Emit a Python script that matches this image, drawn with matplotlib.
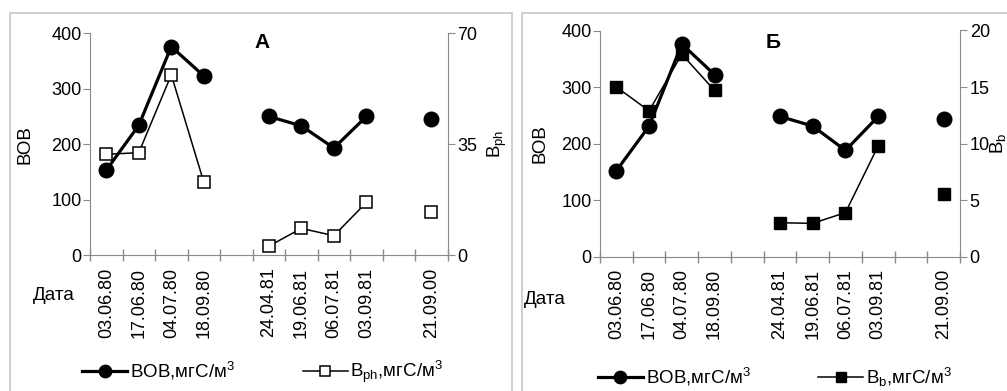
import numpy as np
import matplotlib
matplotlib.use("Agg")
import matplotlib.pyplot as plt
from matplotlib.patches import Rectangle

plt.rcParams['font.family'] = ['Liberation Sans', 'DejaVu Sans']
plt.rcParams['mathtext.fontset'] = 'custom'
plt.rcParams['mathtext.rm'] = 'Liberation Sans'
plt.rcParams['mathtext.it'] = 'Liberation Sans:italic'
plt.rcParams['mathtext.bf'] = 'Liberation Sans:bold'

# категории (пустые слоты -- разрывы между годами)
dates = ['03.06.80', '17.06.80', '04.07.80', '18.09.80', '',
         '24.04.81', '19.06.81', '06.07.81', '03.09.81', '', '21.09.00']
nan = np.nan

# панель А
bob_a = [153, 234, 376, 323, nan, 250, 233, 193, 250, nan, 245]
bph = [31.8, 32.3, 56.9, 23.0, nan, 2.8, 8.4, 6.1, 16.6, nan, 13.6]
# панель Б
bob_b = [152, 231, 376, 322, nan, 248, 231, 188, 248, nan, 244]
bb = [15.0, 12.9, 17.9, 14.7, nan, 3.0, 2.95, 3.9, 9.8, nan, 5.5]

W, H = 1007, 391
fig = plt.figure(figsize=(W / 100, H / 100), dpi=100)


def fx(px):
    return px / W


def fy(py):
    return 1 - py / H


GRAY = '#8a8a8a'
FS = 13
LFS = 13.5

# рамки панелей
fig.patches.append(Rectangle((fx(9.5), fy(420)), fx(512 - 9.5), fy(13.3) - fy(420),
                             transform=fig.transFigure, fill=False,
                             edgecolor='#cccccc', lw=1.3))
fig.patches.append(Rectangle((fx(522), fy(420)), fx(1020 - 522), fy(13.3) - fy(420),
                             transform=fig.transFigure, fill=False,
                             edgecolor='#cccccc', lw=1.3))


def panel(x0, x1, ytop, ybot, bob, sec, sec_max, sec_ticks, filled, letter,
          sec_label, leg_label, leg_x, leg_y, letter_x, bob_x, sec_x, data_x, data_y):
    ax = fig.add_axes([fx(x0), fy(ybot), fx(x1 - x0), fy(ytop) - fy(ybot)])
    ax2 = ax.twinx()
    x = np.arange(len(dates))
    l1, = ax.plot(x, bob, color='black', lw=2.3, marker='o', ms=10.5, zorder=3)
    if filled:
        l2, = ax2.plot(x, sec, color='black', lw=1.1, marker='s', ms=8,
                       markerfacecolor='black')
    else:
        l2, = ax2.plot(x, sec, color='black', lw=1.1, marker='s', ms=8,
                       markerfacecolor='white', markeredgewidth=1.1)
    ax.set_zorder(ax2.get_zorder() + 1)
    ax.patch.set_visible(False)

    ax.set_xlim(-0.5, len(dates) - 0.5)
    ax.set_ylim(0, 400)
    ax2.set_ylim(0, sec_max)
    ax.set_yticks([0, 100, 200, 300, 400])
    ax2.set_yticks(sec_ticks)
    ax.set_xticks(np.arange(-0.5, len(dates), 1.0))
    ax.set_xticklabels([])
    ax.set_xticks(x, minor=True)
    ax.set_xticklabels(dates, minor=True, rotation=90, fontsize=FS)
    ax.tick_params(axis='x', which='major', direction='inout', length=8,
                   color=GRAY, width=1)
    ax.tick_params(axis='x', which='minor', length=0, pad=9)
    ax.tick_params(axis='y', length=5, color=GRAY, labelsize=FS, pad=1)
    ax2.tick_params(axis='y', length=5, color=GRAY, labelsize=FS, pad=2)
    for a in (ax, ax2):
        a.spines['top'].set_visible(False)
        for s in ('left', 'right', 'bottom'):
            a.spines[s].set_color(GRAY)
    ax.spines['right'].set_visible(False)
    ax2.spines['left'].set_visible(False)
    ax2.spines['bottom'].set_visible(False)

    cy = (ytop + ybot) / 2
    fig.text(fx(bob_x), fy(cy), 'ВОВ', rotation=90, ha='center', va='center',
             fontsize=13.5)
    fig.text(fx(sec_x), fy(cy), sec_label, rotation=90, ha='center', va='center',
             fontsize=13.5)
    fig.text(fx(letter_x), fy(43), letter, ha='center', va='center',
             fontsize=15, fontweight='bold')
    fig.text(fx(data_x), fy(data_y), 'Дата', ha='center', va='center', fontsize=13.5)
    fig.legend([l1, l2], [r'ВОВ,мгС/м$^3$', leg_label], ncol=2, loc='center',
               bbox_to_anchor=(fx(leg_x), fy(leg_y)), frameon=False,
               fontsize=LFS, handlelength=2.4, handletextpad=0.15,
               columnspacing=3.6, borderpad=0, borderaxespad=0, markerscale=0.85)
    return ax


panel(90, 447.7, 33.3, 255, bob_a, bph, 70, [0, 35, 70], False, 'А',
      r'B$_{\rm ph}$', r'B$_{\rm ph}$,мгС/м$^3$', 263, 372, 262, 25, 497, 53.5, 295)
panel(600, 960, 30.5, 256.7, bob_b, bb, 20, [0, 5, 10, 15, 20], True, 'Б',
      r'B$_{\rm b}$', r'B$_{\rm b}$,мгС/м$^3$', 775, 377, 773, 540, 998, 545, 299)

fig.savefig('out.png', dpi=100)
